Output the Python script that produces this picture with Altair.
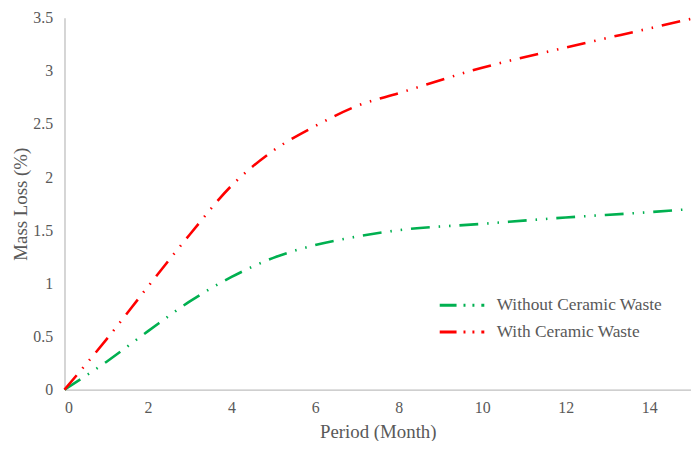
import altair as alt
import pandas as pd

months = [0, 1, 2, 3, 4, 5, 6, 7, 8, 10, 12, 14, 15]
without_cw = [0, 0.26, 0.55, 0.83, 1.06, 1.24, 1.36, 1.44, 1.50, 1.56, 1.62, 1.67, 1.70]
with_cw = [0, 0.47, 0.97, 1.46, 1.92, 2.25, 2.48, 2.67, 2.79, 3.03, 3.22, 3.40, 3.49]
series_names = ["Without Ceramic Waste", "With Ceramic Waste"]
series_colors = ["#00B050", "#FF0000"]
x_ticks = [0, 2, 4, 6, 8, 10, 12, 14]
y_ticks = [0, 0.5, 1, 1.5, 2, 2.5, 3, 3.5]

rows = []
for m, a, b in zip(months, without_cw, with_cw):
    rows.append({"month": m, "loss": a, "series": series_names[0]})
    rows.append({"month": m, "loss": b, "series": series_names[1]})
df = pd.DataFrame(rows)

font = "Times New Roman, Liberation Serif, DejaVu Serif, serif"
dash = [19, 9, 1.5, 9, 1.5, 9]

chart = alt.Chart(df).mark_line(
    interpolate="monotone", strokeWidth=2.6, strokeDash=dash
).encode(
    x=alt.X("month:Q", scale=alt.Scale(domain=[0, 15], nice=False),
            axis=alt.Axis(values=x_ticks, title="Period (Month)", grid=False,
                          ticks=False, labelPadding=10, titlePadding=7,
                          domainColor="#bfbfbf", domainWidth=1.3)),
    y=alt.Y("loss:Q", scale=alt.Scale(domain=[0, 3.5], nice=False),
            axis=alt.Axis(values=y_ticks, title="Mass Loss (%)", grid=False,
                          ticks=False, labelPadding=12, titlePadding=2,
                          labelExpr="datum.value",
                          domainColor="#bfbfbf", domainWidth=1.3)),
    color=alt.Color("series:N",
                    scale=alt.Scale(domain=series_names, range=series_colors),
                    sort=series_names,
                    legend=alt.Legend(title=None, orient="none", legendX=377, legendY=281,
                                      symbolType="stroke", symbolSize=2025,
                                      symbolStrokeWidth=3, symbolDash=[17, 7, 2, 7, 2, 7],
                                      clipHeight=18, labelLimit=400,
                                      labelFont=font, labelFontSize=17.5, labelColor="#595959",
                                      labelOffset=11, rowPadding=9, padding=0)),
).properties(
    width=632, height=375,
    autosize=alt.AutoSizeParams(type="none"),
    padding={"left": 57, "top": 8, "right": 0, "bottom": 50},
).configure(font=font).configure_axis(
    labelFont=font, titleFont=font, labelFontSize=16, titleFontSize=19,
    labelColor="#595959", titleColor="#595959", titleFontWeight="normal",
).configure_legend(
    labelFont=font, labelFontSize=17.5, labelColor="#595959", labelLimit=400,
).configure_view(stroke=None)

chart.save("out.html", embed_options={"renderer": "svg", "actions": False})
